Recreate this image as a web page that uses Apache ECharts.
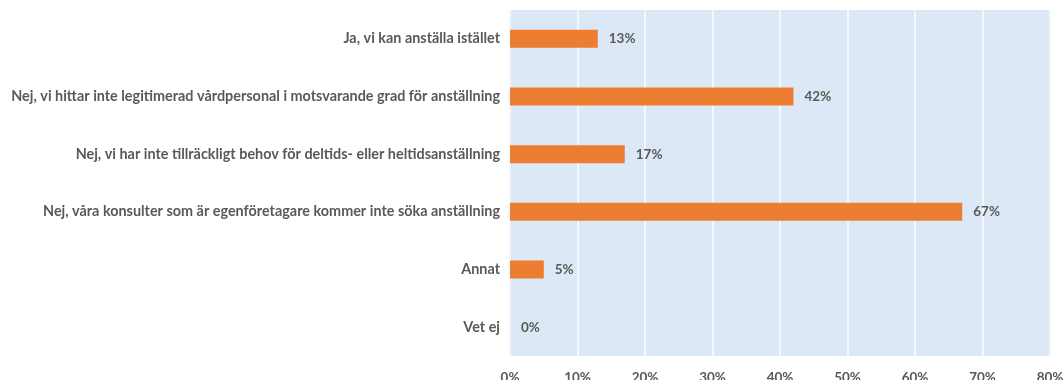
<!DOCTYPE html>
<html>
<head>
<meta charset="utf-8">
<script src="https://cdn.jsdelivr.net/npm/echarts@6/dist/echarts.min.js"></script>
<style>
  html, body { margin: 0; padding: 0; background: #ffffff; }
  #chart { width: 1063px; height: 380px; }
</style>
</head>
<body>
<div id="chart"></div>
<script>
// Answer options, top to bottom
const categories = [
  'Ja, vi kan anställa istället',
  'Nej, vi hittar inte legitimerad vårdpersonal i motsvarande grad för anställning',
  'Nej, vi har inte tillräckligt behov för deltids- eller heltidsanställning',
  'Nej, våra konsulter som är egenföretagare kommer inte söka anställning',
  'Annat',
  'Vet ej'
];
// Share of respondents, percent
const values = [13, 42, 17, 67, 5, 0];
// Value axis ticks, percent
const xTicks = [0, 10, 20, 30, 40, 50, 60, 70, 80];

const textColor = '#595959';
const fontFamily = 'Lato, "Open Sans", sans-serif';

const chart = echarts.init(document.getElementById('chart'), null, { renderer: 'canvas' });
chart.setOption({
  animation: false,
  backgroundColor: '#ffffff',
  grid: {
    left: 510, right: 13, top: 10, bottom: 24,
    containLabel: false, outerBoundsMode: 'none',
    show: true, backgroundColor: '#dce8f5', borderWidth: 0
  },
  xAxis: {
    type: 'value',
    min: xTicks[0],
    max: xTicks[xTicks.length - 1],
    interval: 10,
    axisLine: { show: false },
    axisTick: { show: false },
    splitLine: { show: true, lineStyle: { color: '#f4f8fc', width: 2 } },
    axisLabel: {
      margin: 15,
      color: textColor,
      fontFamily: fontFamily,
      fontWeight: 'bold',
      fontSize: 13.5,
      formatter: v => v + '%'
    }
  },
  yAxis: {
    type: 'category',
    inverse: true,
    data: categories,
    axisLine: { show: false },
    axisTick: { show: false },
    axisLabel: {
      margin: 10,
      color: textColor,
      fontFamily: fontFamily,
      fontWeight: 'bold',
      fontSize: 14.4
    }
  },
  series: [{
    type: 'bar',
    data: values,
    barWidth: 18,
    itemStyle: { color: '#ed7d31' },
    label: {
      show: true,
      position: 'right',
      distance: 11,
      color: textColor,
      fontFamily: fontFamily,
      fontWeight: 'bold',
      fontSize: 13.5,
      formatter: p => p.value + '%'
    }
  }]
});
</script>
</body>
</html>
